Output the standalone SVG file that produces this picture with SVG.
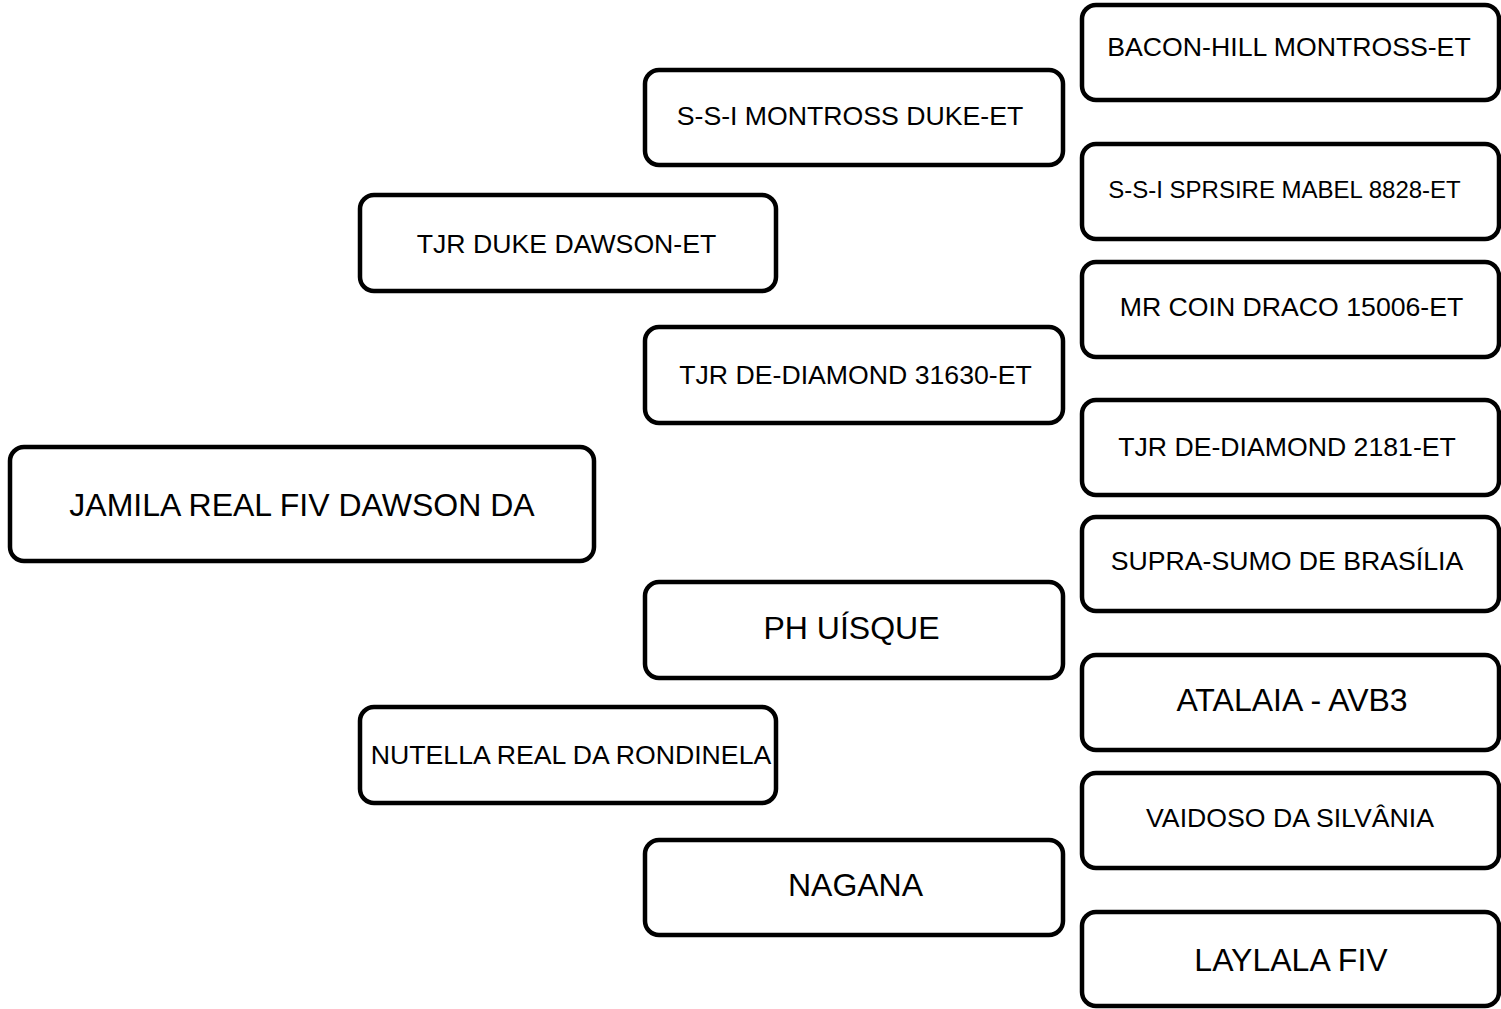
<svg xmlns="http://www.w3.org/2000/svg" width="1501" height="1009" viewBox="0 0 1501 1009">
<style>
.box{fill:#ffffff;stroke:#000000;stroke-width:4.5}
.t{font-family:"Liberation Sans",Arial,sans-serif;fill:#000000;text-anchor:middle}
.m{font-size:26.67px}
.l{font-size:32px}
.s{font-size:24px}
</style>
<rect width="1501" height="1009" fill="#ffffff"/>
<g id="connectors"></g>
<g id="n-root"><rect class="box" x="10" y="447" width="584" height="114" rx="14"/><text class="t l" x="302" y="515.5">JAMILA REAL FIV DAWSON DA</text></g>
<g id="n-sire"><rect class="box" x="360" y="195" width="416" height="96" rx="14"/><text class="t m" x="566.5" y="252.5">TJR DUKE DAWSON-ET</text></g>
<g id="n-dam"><rect class="box" x="360" y="707" width="416" height="96" rx="14"/><text class="t m" x="571" y="763.5">NUTELLA REAL DA RONDINELA</text></g>
<g id="n-ss"><rect class="box" x="645" y="70" width="418" height="95" rx="14"/><text class="t m" x="850" y="124.5">S-S-I MONTROSS DUKE-ET</text></g>
<g id="n-sd"><rect class="box" x="645" y="327" width="418" height="96" rx="14"/><text class="t m" x="855.5" y="383.5">TJR DE-DIAMOND 31630-ET</text></g>
<g id="n-ds"><rect class="box" x="645" y="582" width="418" height="96" rx="14"/><text class="t l" x="851.5" y="638.5">PH UÍSQUE</text></g>
<g id="n-dd"><rect class="box" x="645" y="840" width="418" height="95" rx="14"/><text class="t l" x="855.5" y="895.5">NAGANA</text></g>
<g id="n-sss"><rect class="box" x="1082" y="5" width="417" height="95" rx="14"/><text class="t m" x="1289" y="55.5">BACON-HILL MONTROSS-ET</text></g>
<g id="n-ssd"><rect class="box" x="1082" y="144" width="417" height="95" rx="14"/><text class="t s" x="1284.5" y="197.6">S-S-I SPRSIRE MABEL 8828-ET</text></g>
<g id="n-sds"><rect class="box" x="1082" y="262" width="417" height="95" rx="14"/><text class="t m" x="1291.5" y="315.5">MR COIN DRACO 15006-ET</text></g>
<g id="n-sdd"><rect class="box" x="1082" y="400" width="417" height="95" rx="14"/><text class="t m" x="1287" y="455.5">TJR DE-DIAMOND 2181-ET</text></g>
<g id="n-dss"><rect class="box" x="1082" y="517" width="417" height="94" rx="14"/><text class="t m" x="1287" y="569.5">SUPRA-SUMO DE BRASÍLIA</text></g>
<g id="n-dsd"><rect class="box" x="1082" y="655" width="417" height="95" rx="14"/><text class="t l" x="1292" y="710.5">ATALAIA - AVB3</text></g>
<g id="n-dds"><rect class="box" x="1082" y="773" width="417" height="95" rx="14"/><text class="t m" x="1290" y="826.5">VAIDOSO DA SILVÂNIA</text></g>
<g id="n-ddd"><rect class="box" x="1082" y="912" width="417" height="94" rx="14"/><text class="t l" x="1291" y="970.5">LAYLALA FIV</text></g>
</svg>
